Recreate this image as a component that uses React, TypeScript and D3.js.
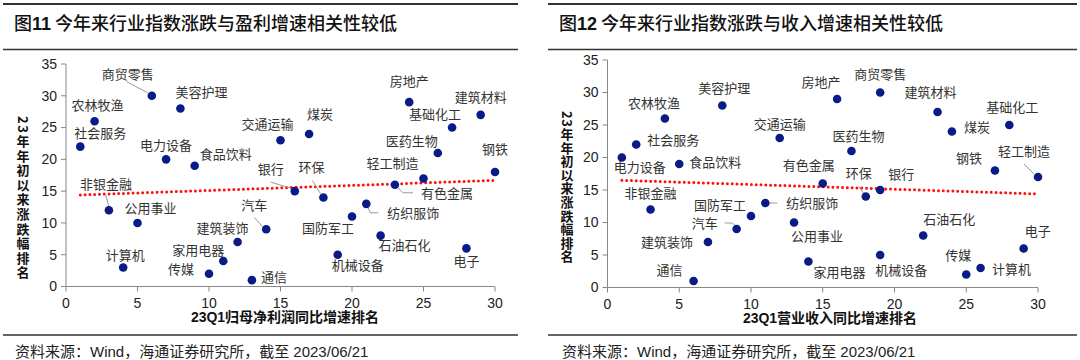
import React from 'react';
import * as d3 from 'd3';

// ---------------- DATA ----------------
const industries = ['农林牧渔','基础化工','钢铁','有色金属','电子','家用电器','食品饮料','纺织服饰','轻工制造','医药生物','公用事业','交通运输','房地产','商贸零售','社会服务','银行','非银金融','建筑材料','建筑装饰','电力设备','机械设备','国防军工','计算机','传媒','通信','煤炭','石油石化','环保','美容护理','汽车'];
// 23年年初以来涨跌幅排名
const priceRank = [26,25,18,16,6,4,19,13,17,21,10,23,29,30,22,15,12,27,7,20,5,11,3,2,1,24,8,14,28,9];
// 23Q1归母净利润同比增速排名
const profitRank = [2,27,30,23,28,11,9,21,25,26,5,15,24,6,1,16,3,29,12,7,19,20,4,10,13,17,22,18,8,14];
// 23Q1营业收入同比增速排名
const revenueRank = [4,28,27,15,29,14,5,11,30,17,13,12,16,19,2,19,3,23,7,1,19,10,26,25,6,24,22,18,8,9];
const xTicks = [0,5,10,15,20,25,30];
const yTicks = [0,5,10,15,20,25,30,35];
const profitTrend: [number, number][] = [[1,14.4],[30,16.7]];
const revenueTrend: [number, number][] = [[1,16.5],[30,14.4]];

// ---------------- LAYOUT (label offsets in px, relative to each dot) ----------------
type Off = { [k: string]: [number, number] };
type Lead = { [k: string]: [number, number][] };

const leftLabelOff: Off = {
  '农林牧渔':[3,-16],'基础化工':[-17,-13],'钢铁':[0,-23],'有色金属':[52,9],'电子':[0,13],
  '家用电器':[-25,-11],'食品饮料':[31,-11],'纺织服饰':[47,9],'轻工制造':[-31,-15],'医药生物':[-26,-12],
  '公用事业':[13,-15],'交通运输':[-13,-16],'房地产':[0,-21],'商贸零售':[-24,-21],'社会服务':[20,-13],
  '银行':[-24,-22],'非银金融':[-3,-26],'建筑材料':[0,-18],'建筑装饰':[-15,-14],'电力设备':[0,-14],
  '机械设备':[20,11],'国防军工':[-24,12],'计算机':[2,-12],'传媒':[-28,-4],'通信':[22,-3],
  '煤炭':[11,-20],'石油石化':[24,10],'环保':[-12,-30],'美容护理':[21,-16],'汽车':[-12,-24],
};
const leftLeaders: Lead = {
  '有色金属':[[2,2],[8,8],[18,8]],
  '纺织服饰':[[1,2],[4,9],[12,9]],
  '商贸零售':[[-4,-3],[-25,-14]],
  '银行':[[-24,-9],[-4,-3]],
  '非银金融':[[-3,-15],[0,-3]],
  '环保':[[-11,-17],[-3,-4]],
  '汽车':[[-12,-12],[-4,-3]],
};
const rightLabelOff: Off = {
  '农林牧渔':[-11,-15],'基础化工':[3,-18],'钢铁':[-26,-12],'有色金属':[-14,-18],'电子':[14,-17],
  '家用电器':[31,11],'食品饮料':[36,-2],'纺织服饰':[47,0],'轻工制造':[-14,-26],'医药生物':[7,-15],
  '公用事业':[23,14],'交通运输':[0,-14],'房地产':[-16,-17],'商贸零售':[0,-18],'社会服务':[37,-4],
  '银行':[21,-16],'非银金融':[0,-16],'建筑材料':[-7,-20],'建筑装饰':[-41,0],'电力设备':[18,10],
  '机械设备':[21,15],'国防军工':[-31,-11],'计算机':[31,1],'传媒':[-8,-19],'通信':[-24,-11],
  '煤炭':[25,-4],'石油石化':[26,-16],'环保':[-7,-23],'美容护理':[2,-17],'汽车':[-32,-6],
};
const rightLeaders: Lead = {
  '纺织服饰':[[4,0],[12,0]],
  '轻工制造':[[-14,-13],[-4,-3]],
  '环保':[[-7,-10],[-2,-3]],
  '汽车':[[-12,-6],[-4,-6],[-1,-3]],
};

const CJK = '"Noto Sans CJK SC", sans-serif';
const LAT = '"Liberation Sans", Arial, "Noto Sans CJK SC", sans-serif';
const DOT = '#0A1A86';

type PanelCfg = {
  px0: number; px1: number;
  x0: number; x1: number; y0: number; y1: number;
  figNo: string; title: string; xTitle: string; xTitleX: number;
  yTitleX: number; yTitleY: number; ySpacing: number;
  xs: number[]; trend: [number, number][];
  off: Off; leaders: Lead; footX: number;
};

function Panel({ c }: { c: PanelCfg }) {
  const x = d3.scaleLinear().domain([0, 30]).range([c.x0, c.x1]);
  const y = d3.scaleLinear().domain([0, 35]).range([c.y0, c.y1]);
  const line = d3.line<[number, number]>().x(d => x(d[0])).y(d => y(d[1]));
  return (
    <g>
      {/* header */}
      <line x1={c.px0} x2={c.px1} y1={4} y2={4} stroke="#333" strokeWidth={2} />
      <text x={c.px0 + 11} y={30} fontSize={18} fill="#111" fontFamily={CJK} fontWeight={500}>
        图<tspan fontFamily={LAT} fontWeight={700}>{c.figNo}</tspan> {c.title}
      </text>
      <line x1={c.px0} x2={c.px1} y1={49.5} y2={49.5} stroke="#333" strokeWidth={1.5} />

      {/* axes */}
      <line x1={c.x0} x2={c.x0} y1={y(35)} y2={y(0)} stroke="#888" strokeWidth={1} />
      <line x1={c.x0} x2={c.x1} y1={y(0)} y2={y(0)} stroke="#888" strokeWidth={1} />
      {yTicks.map(t => (
        <g key={'y' + t}>
          <line x1={c.x0 - 5} x2={c.x0} y1={y(t)} y2={y(t)} stroke="#888" />
          <text x={c.x0 - 9} y={y(t)} dy="0.35em" textAnchor="end" fontSize={14} fontFamily={LAT} fill="#222">{t}</text>
        </g>
      ))}
      {xTicks.map(t => (
        <g key={'x' + t}>
          <line x1={x(t)} x2={x(t)} y1={y(0)} y2={y(0) + 5} stroke="#888" />
          <text x={x(t)} y={y(0) + 17} dy="0.35em" textAnchor="middle" fontSize={14} fontFamily={LAT} fill="#222">{t}</text>
        </g>
      ))}
      <text x={c.xTitleX} y={y(0) + 31} dy="0.35em" textAnchor="middle" fontSize={14} fontWeight={700} fontFamily={LAT} fill="#111">{c.xTitle}</text>

      {/* y title, vertical */}
      <text x={c.yTitleX} y={c.yTitleY} fontSize={13} fontWeight={700} fontFamily={CJK} fill="#111"
        style={{ writingMode: 'vertical-rl', textOrientation: 'mixed', letterSpacing: `${c.ySpacing}px` } as any}>
        23年年初以来涨跌幅排名
      </text>

      {/* trend */}
      <path d={line(c.trend) || ''} fill="none" stroke="#FF1010" strokeWidth={3} strokeLinecap="round" strokeDasharray="0 4.8" />

      {/* leaders */}
      {industries.map((name, i) => {
        const L = c.leaders[name];
        if (!L) return null;
        const cx = x(c.xs[i]), cy = y(priceRank[i]);
        return <polyline key={'l' + name} points={L.map(p => `${cx + p[0]},${cy + p[1]}`).join(' ')} fill="none" stroke="#999" strokeWidth={1} />;
      })}

      {/* dots */}
      {industries.map((name, i) => (
        <circle key={'d' + name} cx={x(c.xs[i])} cy={y(priceRank[i])} r={4.3} fill={DOT} />
      ))}

      {/* labels */}
      {industries.map((name, i) => {
        const o = c.off[name] || [0, -14];
        return (
          <text key={'t' + name} x={x(c.xs[i]) + o[0]} y={y(priceRank[i]) + o[1]} dy="0.36em" textAnchor="middle" fontSize={13} fontFamily={CJK} fill="#333">{name}</text>
        );
      })}

      {/* footer */}
      <line x1={c.px0} x2={c.px1} y1={335} y2={335} stroke="#333" strokeWidth={1.5} />
      <text x={c.footX} y={357} fontSize={15} fontFamily={LAT} fill="#222">资料来源：Wind，海通证券研究所，截至 2023/06/21</text>
    </g>
  );
}

const leftCfg: PanelCfg = {
  px0: 3, px1: 518, x0: 66, x1: 495, y0: 286.5, y1: 64,
  figNo: '11', title: '今年来行业指数涨跌与盈利增速相关性较低',
  xTitle: '23Q1归母净利润同比增速排名', xTitleX: 285,
  yTitleX: 23, yTitleY: 116, ySpacing: 1.6,
  xs: profitRank, trend: profitTrend, off: leftLabelOff, leaders: leftLeaders, footX: 15,
};
const rightCfg: PanelCfg = {
  px0: 548, px1: 1077, x0: 607.5, x1: 1038, y0: 287.5, y1: 60,
  figNo: '12', title: '今年来行业指数涨跌与收入增速相关性较低',
  xTitle: '23Q1营业收入同比增速排名', xTitleX: 830,
  yTitleX: 567, yTitleY: 111, ySpacing: 0.6,
  xs: revenueRank, trend: revenueTrend, off: rightLabelOff, leaders: rightLeaders, footX: 562,
};

export default function App() {
  return (
    <svg width={1080} height={360} style={{ position: 'absolute', left: 0, top: 0, background: '#fff' }}>
      <rect x={0} y={0} width={1080} height={360} fill="#fff" />
      <Panel c={leftCfg} />
      <Panel c={rightCfg} />
    </svg>
  );
}
